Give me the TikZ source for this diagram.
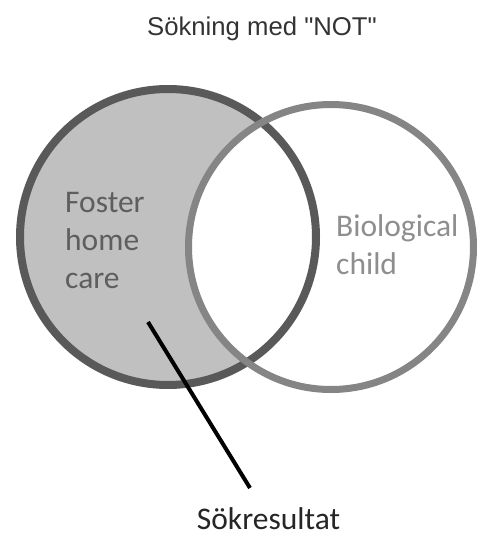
\documentclass[tikz,border=0pt]{standalone}
\usepackage{fontspec}
\setmainfont{Carlito}
\newfontfamily\titlefont{Liberation Sans}
\usepackage{tikz}
\usetikzlibrary{positioning}
\definecolor{setfill}{HTML}{C0C0C0}
\definecolor{leftring}{HTML}{595959}
\definecolor{rightring}{HTML}{858585}
\definecolor{lefttext}{HTML}{5E5E5E}
\definecolor{righttext}{HTML}{8E8E8E}

\begin{document}
\begin{tikzpicture}[x=1pt, y=-1pt,
	setlabel/.style = {inner sep=0, align=left, font=\fontsize{31.5}{38}\selectfont},
	ring/.style = {circle, inner sep=0, outer sep=0}]
				\useasboundingbox (0,0) rectangle (482,533);
				\node[ring, fill = setfill, minimum size = 296pt] (a) at (168,237) {};
				\node[ring, fill = white, minimum size = 285pt] (b) at (331,247) {};
				\draw[leftring, line width = 8pt] (a.center) circle (148);
				\draw[rightring, line width = 7pt] (b.center) circle (142.5);
				\node[anchor = base, text = black!80, font = \titlefont\fontsize{25.7}{30}\selectfont] (t) at (262,35) {Sökning med "NOT"};
				\node[setlabel, anchor = north west, text = lefttext] (fc) at (65,192) {Foster\\home\\care};
				\node[setlabel, anchor = north west, text = righttext] (bc) at (336,214) {Biological\\child};
				\node[anchor = north, inner sep = 0, text = black!85, font = \fontsize{31.5}{36}\selectfont] (r) at (268.5,507) {Sökresultat};
				\coordinate (p) at (148,322);
				\draw[line width = 4pt] (p) -- ([xshift = -18.5pt, yshift = 19pt]r.north);
			\end{tikzpicture}
\end{document}
